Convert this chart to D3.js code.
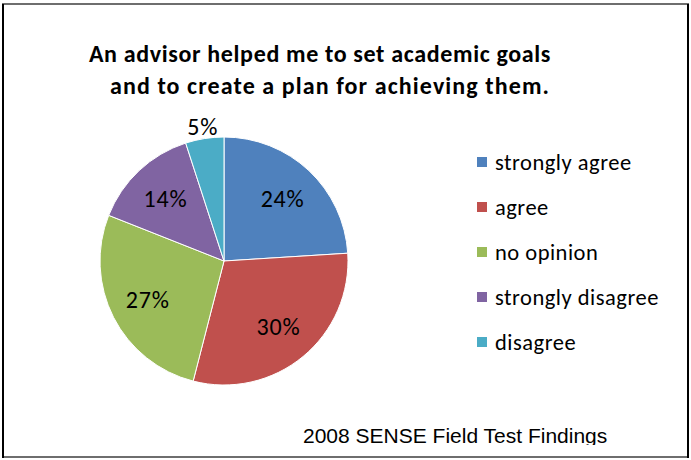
<!DOCTYPE html>
<html>
<head>
<meta charset="utf-8">
<script src="https://cdn.jsdelivr.net/npm/d3@7"></script>
<style>
  html, body { margin: 0; padding: 0; background: #fff; }
  svg { display: block; }
</style>
</head>
<body>
<svg id="chart" width="691" height="460"></svg>
<script>
// Survey responses (percent of respondents)
const categories = ["strongly agree", "agree", "no opinion", "strongly disagree", "disagree"];
const values = [24, 30, 27, 14, 5];
const colors = ["#4F81BD", "#C0504D", "#9BBB59", "#8064A2", "#4BACC6"];
const titleLines = ["An advisor helped me to set academic goals", "and to create a plan for achieving them."];
const footer = "2008 SENSE Field Test Findings";

const svg = d3.select("#chart");
const labelFont = "Carlito, Lato, 'Open Sans', sans-serif";

// Frame
svg.append("rect").attr("x", 0).attr("y", 0).attr("width", 691).attr("height", 460).attr("fill", "#fff");
svg.append("line").attr("x1", 2).attr("x2", 689).attr("y1", 4).attr("y2", 4).attr("stroke", "#6e6e6e").attr("stroke-width", 2);
svg.append("line").attr("x1", 2).attr("x2", 689).attr("y1", 457).attr("y2", 457).attr("stroke", "#6e6e6e").attr("stroke-width", 2);
svg.append("line").attr("x1", 3).attr("x2", 3).attr("y1", 4).attr("y2", 458).attr("stroke", "#000").attr("stroke-width", 2);
svg.append("line").attr("x1", 688).attr("x2", 688).attr("y1", 4).attr("y2", 458).attr("stroke", "#000").attr("stroke-width", 2);

// Title, two centred lines
const titleX = [320, 330];
const titleSpacing = [0.65, 1.1];
svg.append("text")
  .attr("y", 61.5)
  .attr("text-anchor", "middle")
  .attr("font-family", labelFont)
  .attr("font-weight", "bold")
  .attr("font-size", 24)
  .attr("fill", "#000")
  .selectAll("tspan")
  .data(titleLines)
  .join("tspan")
  .attr("x", (d, i) => titleX[i])
  .attr("dy", (d, i) => i === 0 ? 0 : 32.5)
  .attr("letter-spacing", (d, i) => titleSpacing[i])
  .text(d => d);

// Pie
const cx = 224, cy = 261, r = 124;
const pie = d3.pie().sort(null).value(d => d.value);
const arcs = pie(categories.map((c, i) => ({ name: c, value: values[i], color: colors[i] })));
const arc = d3.arc().innerRadius(0).outerRadius(r);
const labelArc = d3.arc().innerRadius(r * 0.69).outerRadius(r * 0.69);
const outerArc = d3.arc().innerRadius(r + 12).outerRadius(r + 12);

const g = svg.append("g").attr("transform", `translate(${cx},${cy})`);
g.selectAll("path.slice")
  .data(arcs)
  .join("path")
  .attr("class", "slice")
  .attr("d", arc)
  .attr("fill", d => d.data.color)
  .attr("stroke", "#fff")
  .attr("stroke-width", 1);

g.selectAll("text.pct")
  .data(arcs)
  .join("text")
  .attr("class", "pct")
  .attr("transform", d => {
    const p = d.data.value < 8 ? outerArc.centroid(d) : labelArc.centroid(d);
    return `translate(${p[0]},${p[1]})`;
  })
  .attr("text-anchor", "middle")
  .attr("dy", "0.35em")
  .attr("font-family", labelFont)
  .attr("font-size", 24)
  .attr("letter-spacing", 0.8)
  .attr("fill", "#000")
  .text(d => d.data.value + "%");

// Legend
const legend = svg.append("g").attr("transform", "translate(477,157)");
const items = legend.selectAll("g")
  .data(categories)
  .join("g")
  .attr("transform", (d, i) => `translate(0,${i * 45})`);
items.append("rect")
  .attr("width", 10).attr("height", 10)
  .attr("fill", (d, i) => colors[i]);
items.append("text")
  .attr("x", 18).attr("y", 5)
  .attr("dy", "0.35em")
  .attr("font-family", labelFont)
  .attr("font-size", 22.5)
  .attr("letter-spacing", 0.5)
  .attr("fill", "#000")
  .text(d => d);

// Footer, clipped at its box bottom
svg.append("clipPath").attr("id", "footclip")
  .append("rect").attr("x", 0).attr("y", 400).attr("width", 691).attr("height", 45);
svg.append("text")
  .attr("clip-path", "url(#footclip)")
  .attr("x", 303).attr("y", 443)
  .attr("font-family", "'Liberation Sans', Arial, sans-serif")
  .attr("font-size", 21)
  .attr("fill", "#000")
  .text(footer);
</script>
</body>
</html>
